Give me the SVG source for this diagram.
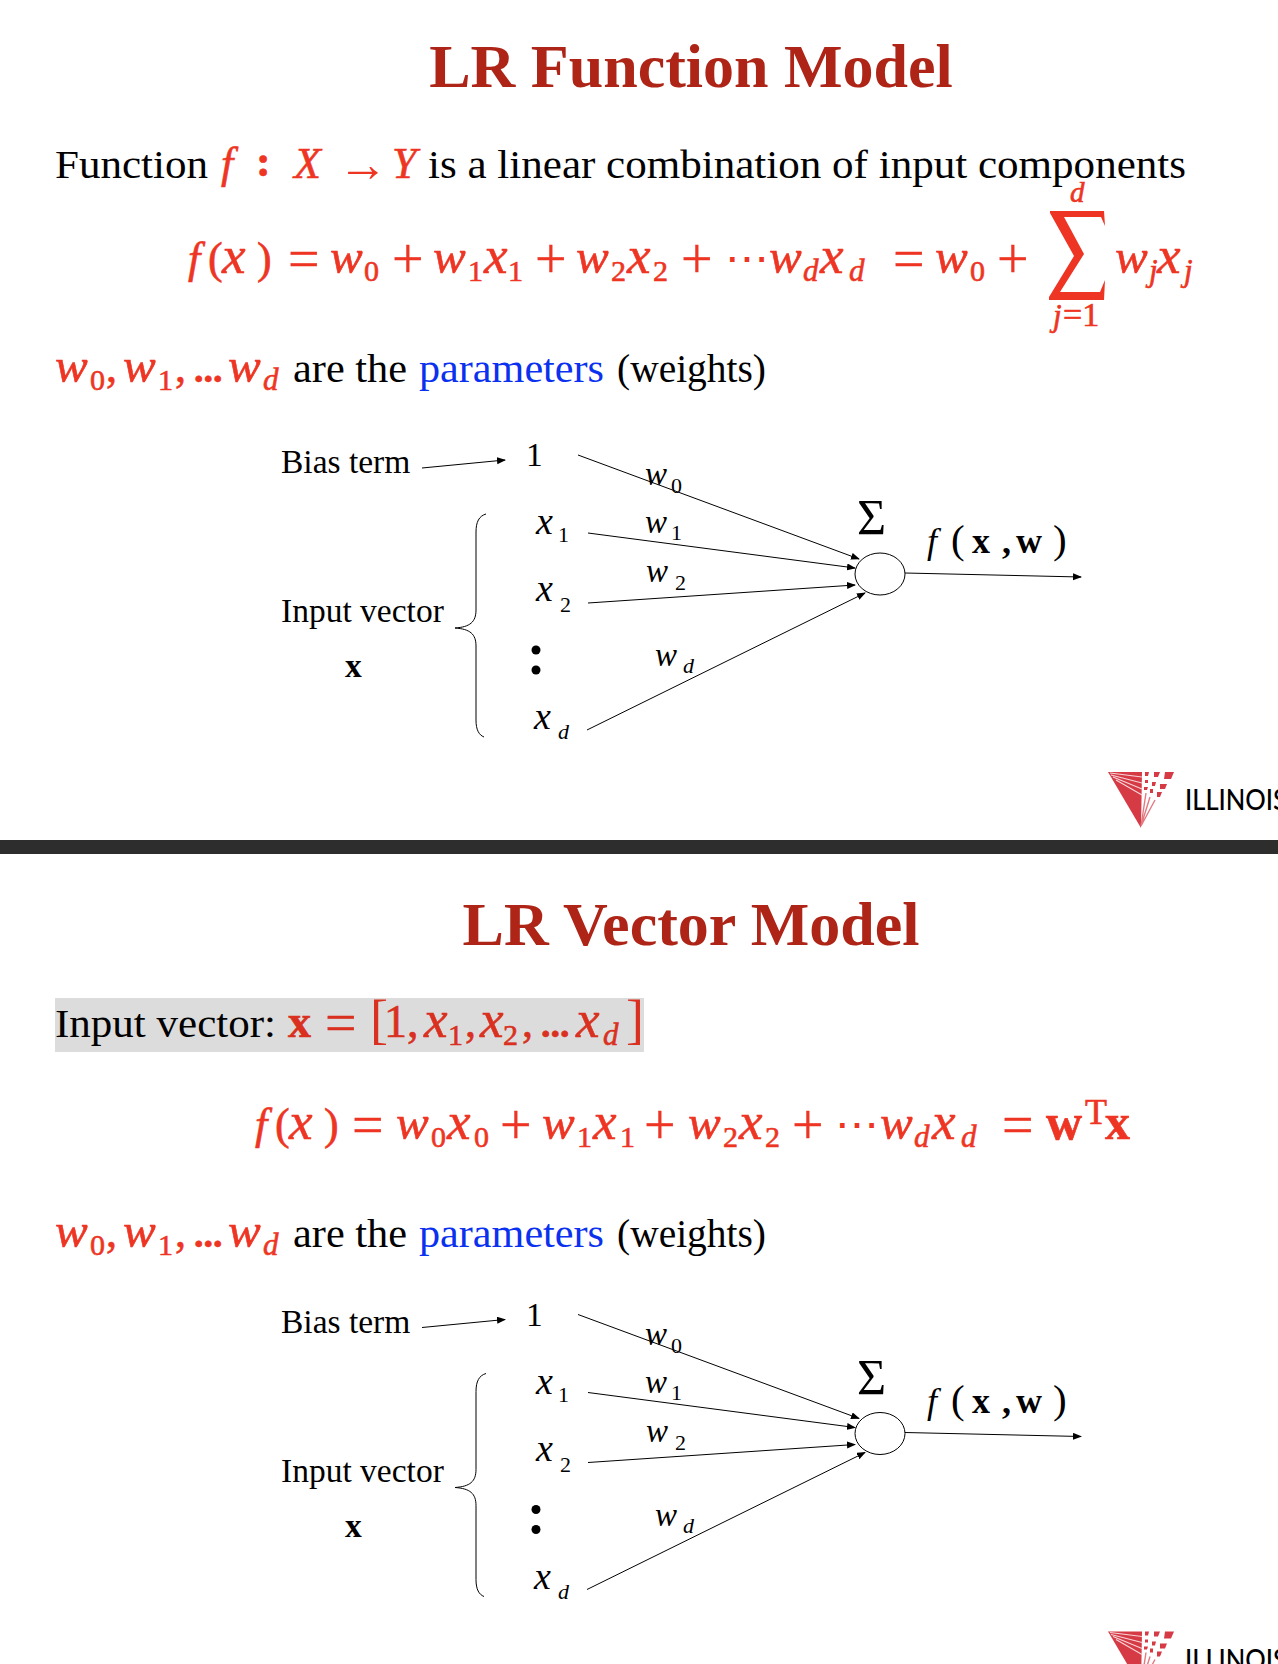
<svg xmlns="http://www.w3.org/2000/svg" width="1278" height="1664" viewBox="0 0 1278 1664">
<style>
text{font-family:"Liberation Serif",serif;fill:#000}
.title{font-size:62px;font-weight:700;fill:#ae2517;text-anchor:middle}
.body{font-size:41px}
.m{font-size:44px;font-style:italic;fill:#ee3524;stroke:#ee3524;stroke-width:.6}
.v{font-size:49px}
.x{font-size:53px}
.op{font-size:56px;font-style:normal;stroke-width:.3}
.u{font-style:normal}
.s{font-size:30px;font-style:normal}
.si{font-size:31px;font-style:italic}
.bb{font-size:50px;font-weight:700;font-style:normal}
.dots{font-size:38px;font-style:normal;font-weight:700}
.blue{fill:#0a30f0}
.hl .m{fill:#d93020;stroke:#d93020}
.d{font-size:33.5px}
.di{font-size:33px;font-style:italic}
.dx{font-size:38px;font-style:italic}
.ds{font-size:22px}
.dsi{font-size:22px;font-style:italic}
.fw{font-size:36px}
.par{font-size:41px}
.b{font-weight:700}
.ln{stroke:#000;stroke-width:1;fill:none}
.logo{fill:#d63a45}
.il{font-family:"Lato",sans-serif;font-size:29px;font-weight:500}
</style>
<defs>
<marker id="ah" markerWidth="10" markerHeight="8" refX="8" refY="3.5" orient="auto" markerUnits="userSpaceOnUse"><path d="M0 0L9 3.5L0 7z" fill="#000"/></marker>
<g id="logo-mark">
<polygon class="logo" points="1108,772 1141,828 1142,772"/>
<path d="M1110,773L1142,777M1111,775L1142,783M1113,777L1142,789M1116,780L1142,795" stroke="#f6d5d8" stroke-width="1.2" fill="none"/>
<path d="M1141,826L1146,793M1141,826L1150,797M1141,826L1155,800" stroke="#e27a82" stroke-width="1.4" fill="none"/>
<polygon class="logo" points="1145,772 1149,772 1148,776 1145,776"/>
<polygon class="logo" points="1154,772 1160,772 1158,777 1154,777"/>
<polygon class="logo" points="1165,772 1174,772 1171,779 1164,779"/>
<polygon class="logo" points="1145,780 1148,780 1148,783 1145,783"/>
<polygon class="logo" points="1152,782 1156,782 1155,786 1152,786"/>
<polygon class="logo" points="1160,784 1167,784 1165,789 1160,789"/>
<polygon class="logo" points="1144,787 1148,787 1147,790 1144,790"/>
<polygon class="logo" points="1150,789 1153,789 1153,793 1150,793"/>
<polygon class="logo" points="1157,792 1162,792 1160,797 1157,797"/>
</g>
<g id="diagram">
<g id="connectors">
<path class="ln" d="M422,468L505,460" marker-end="url(#ah)"/>
<path class="ln" d="M578,455L859,559" marker-end="url(#ah)"/>
<path class="ln" d="M588,533L855,568" marker-end="url(#ah)"/>
<path class="ln" d="M588,603L855,585" marker-end="url(#ah)"/>
<path class="ln" d="M587,730L865,593" marker-end="url(#ah)"/>
<path class="ln" d="M905,573L1081,577" marker-end="url(#ah)"/>
<path class="ln" d="M486,514C479,516 476,522 476,532L476,610C476,622 470,627 455,628C470,629 476,634 476,646L476,720C476,730 479,735 484,737"/>
</g>
<text class="d" x="281" y="473">Bias term</text>
<text class="d" x="281" y="622">Input vector</text>
<text class="d b" x="345" y="677">x</text>
<text class="d" x="526" y="466">1</text>
<text class="di" x="645" y="485">w</text><text class="ds" x="671" y="493">0</text>
<text class="di" x="645" y="533">w</text><text class="ds" x="671" y="540">1</text>
<text class="di" x="646" y="582">w</text><text class="ds" x="675" y="590">2</text>
<text class="di" x="655" y="666">w</text><text class="dsi" x="683" y="673">d</text>
<text class="dx" x="536" y="534">x</text><text class="ds" x="558" y="542">1</text>
<text class="dx" x="536" y="601">x</text><text class="ds" x="560" y="612">2</text>
<text class="dx" x="534" y="729">x</text><text class="dsi" x="558" y="739">d</text>
<circle cx="536" cy="650" r="4.5"/><circle cx="536" cy="670" r="4.5"/>
<ellipse class="ln" cx="880" cy="574" rx="25" ry="21"/>
<text class="d" x="857" y="534" style="font-size:50px">Σ</text>
<text class="di fw" x="927" y="553">f</text>
<text class="par" x="951" y="553">(</text>
<text class="fw b" x="972" y="553">x</text>
<text class="fw b" x="1002" y="553">,</text>
<text class="fw b" x="1016" y="553">w</text>
<text class="par" x="1053" y="553">)</text>
</g>
</defs>
<rect width="1278" height="1664" fill="#fff"/>
<g id="slide1">
<text class="title" x="691" y="87">LR Function Model</text>
<g id="line1">
<text class="body" x="55" y="178" textLength="153" lengthAdjust="spacingAndGlyphs">Function</text>
<text class="m" x="221" y="178">f</text><text class="m u b" x="256" y="176">:</text>
<text class="m" x="294" y="178">X</text><text class="m u" x="338" y="181" style="font-size:50px;stroke-width:0">→</text><text class="m" x="392" y="178">Y</text>
<text class="body" x="428" y="178" textLength="758" lengthAdjust="spacingAndGlyphs">is a linear combination of input components</text>
</g>
<g id="eq1">
<text class="m" x="188" y="273">f</text><text class="m u" x="208" y="273">(</text><text class="m x" x="222" y="273">x</text><text class="m u" x="257" y="273">)</text>
<text class="m op" x="288" y="278">=</text>
<text class="m v" x="330" y="273">w</text><text class="m s" x="364" y="281">0</text>
<text class="m op" x="392" y="278">+</text>
<text class="m v" x="433" y="273">w</text><text class="m s" x="468" y="281">1</text><text class="m x" x="484" y="273">x</text><text class="m s" x="508" y="281">1</text>
<text class="m op" x="535" y="278">+</text>
<text class="m v" x="576" y="273">w</text><text class="m s" x="611" y="281">2</text><text class="m x" x="627" y="273">x</text><text class="m s" x="653" y="281">2</text>
<text class="m op" x="681" y="278">+</text><text class="m u" x="725" y="273" style="stroke-width:0">⋯</text>
<text class="m v" x="769" y="273">w</text><text class="m si" x="803" y="281">d</text><text class="m x" x="820" y="273">x</text><text class="m si" x="849" y="281">d</text>
<text class="m op" x="893" y="278">=</text>
<text class="m v" x="935" y="273">w</text><text class="m s" x="970" y="281">0</text>
<text class="m op" x="997" y="278">+</text>
<path d="M1050,211L1104,211L1105,226L1101,217L1064,217L1084,254L1060,292L1100,292L1105,280L1104,300L1049,300L1049,297L1074,256L1050,213z" fill="#ee3524"/>
<text class="m si" x="1070" y="202" style="font-size:29px">d</text>
<text class="m si" x="1053" y="326">j</text><text class="m s" x="1063" y="326" style="font-size:34px">=1</text>
<text class="m v" x="1115" y="273">w</text><text class="m si" x="1149" y="281">j</text><text class="m x" x="1157" y="273">x</text><text class="m si" x="1184" y="281">j</text>
</g>
<g id="params1">
<text class="m v" x="55" y="382">w</text><text class="m s" x="90" y="390">0</text><text class="m u" x="106" y="382">,</text>
<text class="m v" x="123" y="382">w</text><text class="m s" x="158" y="390">1</text><text class="m u" x="175" y="382">,</text>
<text class="m dots" x="194" y="382">...</text>
<text class="m v" x="228" y="382">w</text><text class="m si" x="263" y="390">d</text>
<text class="body" x="293" y="382" textLength="114" lengthAdjust="spacingAndGlyphs">are the</text>
<text class="body blue" x="419" y="382" textLength="185" lengthAdjust="spacingAndGlyphs">parameters</text>
<text class="body" x="617" y="382" textLength="149" lengthAdjust="spacingAndGlyphs">(weights)</text>
</g>
<use id="diagram1" href="#diagram"/>
<g id="logo1"><use href="#logo-mark"/><text class="il" x="1185" y="810" textLength="102" lengthAdjust="spacingAndGlyphs">ILLINOIS</text></g>
</g>
<rect id="divider" x="0" y="840" width="1278" height="14" fill="#2d2d2d"/>
<g id="slide2">
<text class="title" x="691" y="945">LR Vector Model</text>
<g id="inputline" class="hl">
<rect x="55" y="998" width="589" height="54" fill="#dcdcdc"/>
<text class="body" x="55" y="1037" textLength="221" lengthAdjust="spacingAndGlyphs">Input vector:</text>
<text class="m bb" x="288" y="1037" style="font-size:46px">x</text>
<text class="m op" x="325" y="1042">=</text>
<text class="m u" x="370" y="1038" style="stroke-width:0;font-size:54px">[</text>
<text class="m u" x="384" y="1037" style="font-size:46px">1,</text>
<text class="m x" x="424" y="1037">x</text><text class="m s" x="448" y="1045">1</text><text class="m u" x="465" y="1037">,</text>
<text class="m x" x="480" y="1037">x</text><text class="m s" x="503" y="1045">2</text><text class="m u" x="522" y="1037">,</text>
<text class="m dots" x="541" y="1037">...</text>
<text class="m x" x="576" y="1037">x</text><text class="m si" x="603" y="1045">d</text>
<text class="m u" x="626" y="1038" style="stroke-width:0;font-size:54px">]</text>
</g>
<g id="eq2">
<text class="m" x="255" y="1139">f</text><text class="m u" x="275" y="1139">(</text><text class="m x" x="289" y="1139">x</text><text class="m u" x="324" y="1139">)</text>
<text class="m op" x="352" y="1144">=</text>
<text class="m v" x="396" y="1139">w</text><text class="m s" x="431" y="1147">0</text><text class="m x" x="447" y="1139">x</text><text class="m s" x="474" y="1147">0</text>
<text class="m op" x="500" y="1144">+</text>
<text class="m v" x="542" y="1139">w</text><text class="m s" x="577" y="1147">1</text><text class="m x" x="593" y="1139">x</text><text class="m s" x="620" y="1147">1</text>
<text class="m op" x="644" y="1144">+</text>
<text class="m v" x="688" y="1139">w</text><text class="m s" x="723" y="1147">2</text><text class="m x" x="739" y="1139">x</text><text class="m s" x="765" y="1147">2</text>
<text class="m op" x="792" y="1144">+</text><text class="m u" x="835" y="1139" style="stroke-width:0">⋯</text>
<text class="m v" x="880" y="1139">w</text><text class="m si" x="914" y="1147">d</text><text class="m x" x="932" y="1139">x</text><text class="m si" x="961" y="1147">d</text>
<text class="m op" x="1002" y="1144">=</text>
<text class="m bb" x="1046" y="1139">w</text><text class="m s" x="1085" y="1124" style="font-size:36px">T</text><text class="m bb" x="1105" y="1139">x</text>
</g>
<g id="params2">
<text class="m v" x="55" y="1247">w</text><text class="m s" x="90" y="1255">0</text><text class="m u" x="106" y="1247">,</text>
<text class="m v" x="123" y="1247">w</text><text class="m s" x="158" y="1255">1</text><text class="m u" x="175" y="1247">,</text>
<text class="m dots" x="194" y="1247">...</text>
<text class="m v" x="228" y="1247">w</text><text class="m si" x="263" y="1255">d</text>
<text class="body" x="293" y="1247" textLength="114" lengthAdjust="spacingAndGlyphs">are the</text>
<text class="body blue" x="419" y="1247" textLength="185" lengthAdjust="spacingAndGlyphs">parameters</text>
<text class="body" x="617" y="1247" textLength="149" lengthAdjust="spacingAndGlyphs">(weights)</text>
</g>
<use id="diagram2" href="#diagram" y="859.5"/>
<g id="logo2" transform="translate(0,859.5)"><use href="#logo-mark"/><text class="il" x="1185" y="810" textLength="102" lengthAdjust="spacingAndGlyphs">ILLINOIS</text></g>
</g>
</svg>
